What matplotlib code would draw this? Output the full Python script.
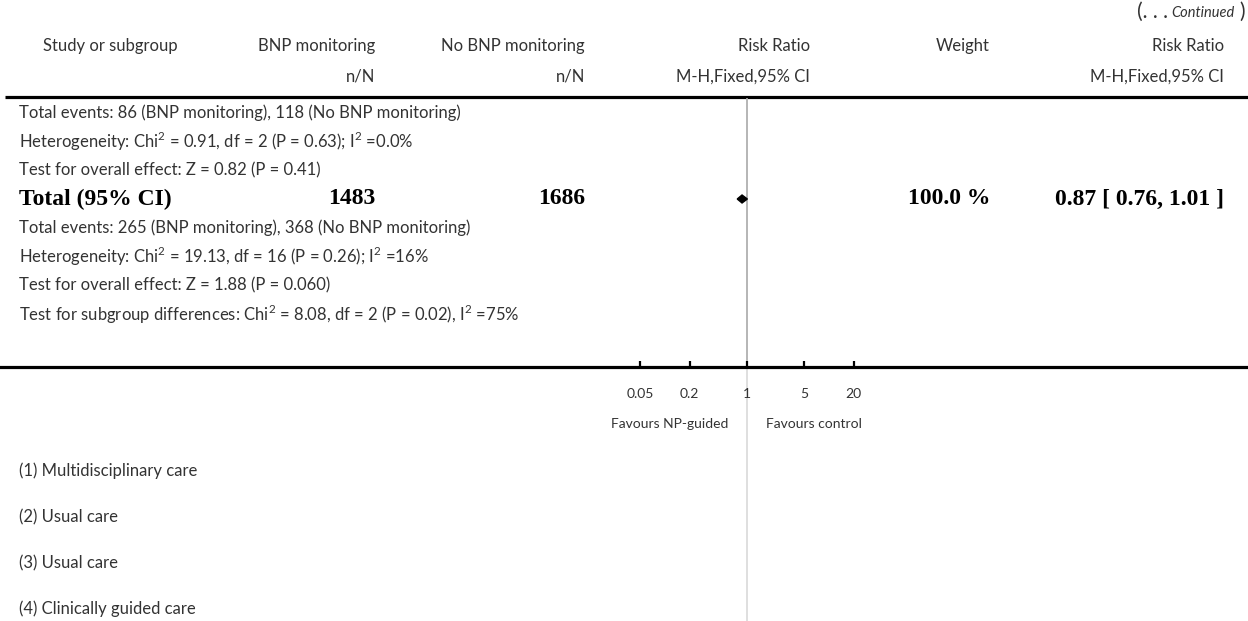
import numpy as np
import matplotlib.pyplot as plt
from matplotlib.patches import Polygon

plt.rcParams['mathtext.fontset'] = 'custom'
plt.rcParams['mathtext.rm'] = 'Lato'
plt.rcParams['font.family'] = ['Lato', 'DejaVu Sans']

SQ = '$^{\\mathregular{2}}$'

# column headers
headers = ['Study or subgroup', 'BNP monitoring', 'No BNP monitoring', 'Risk Ratio', 'Weight', 'Risk Ratio']
subheaders = ['n/N', 'n/N', 'M-H,Fixed,95% CI', 'M-H,Fixed,95% CI']

# summary rows
subgroup_lines = [
    'Total events: 86 (BNP monitoring), 118 (No BNP monitoring)',
    'Heterogeneity: Chi' + SQ + ' = 0.91, df = 2 (P = 0.63); I' + SQ + ' =0.0%',
    'Test for overall effect: Z = 0.82 (P = 0.41)',
]
total_label = 'Total (95% CI)'
total_n = [1483, 1686]
total_weight = 100.0
total_rr = 0.87
total_lo = 0.76
total_hi = 1.01
overall_lines = [
    'Total events: 265 (BNP monitoring), 368 (No BNP monitoring)',
    'Heterogeneity: Chi' + SQ + ' = 19.13, df = 16 (P = 0.26); I' + SQ + ' =16%',
    'Test for overall effect: Z = 1.88 (P = 0.060)',
    'Test for subgroup differences: Chi' + SQ + ' = 8.08, df = 2 (P = 0.02), I' + SQ + ' =75%',
]

# axis
tick_vals = [0.05, 0.2, 1, 5, 20]
tick_labels = ['0.05', '0.2', '1', '5', '20']
favours = ['Favours NP-guided', 'Favours control']

footnotes = ['(1) Multidisciplinary care', '(2) Usual care', '(3) Usual care', '(4) Clinically guided care']

W, H = 1248, 621
fig = plt.figure(figsize=(W / 100, H / 100), dpi=100)
ax = fig.add_axes([0, 0, 1, 1])
ax.set_xlim(0, W)
ax.set_ylim(H, 0)
ax.axis('off')

txt_col = '#333333'
sans = dict(color=txt_col)
fs = 12
serif = dict(family='Liberation Serif', fontweight='bold', color='black', fontsize=17)

# column right edges
c_n1, c_n2, c_rr, c_w, c_ci = 375, 585, 810, 990, 1224

# continued mark
ax.text(1245, 12, ')', ha='right', va='center', fontsize=15, **sans)
ax.text(1235, 13, 'Continued', ha='right', va='center', fontsize=10.5, style='italic', **sans)
ax.text(1168, 12, '(. . .', ha='right', va='center', fontsize=15, **sans)

# header
hx = [(110, 'center'), (c_n1, 'right'), (c_n2, 'right'), (c_rr, 'right'), (c_w, 'right'), (c_ci, 'right')]
for (x, ha), t in zip(hx, headers):
    ax.text(x, 46, t, ha=ha, va='center', fontsize=fs, **sans)
for x, t in zip([c_n1, c_n2, c_rr, c_ci], subheaders):
    ax.text(x, 77, t, ha='right', va='center', fontsize=fs, **sans)
ax.plot([5, W], [97, 97], color='black', lw=2.3, solid_capstyle='butt')

y = 113
for t in subgroup_lines:
    ax.text(19, y, t, ha='left', va='center', fontsize=fs, **sans)
    y += 28.7

ty = 199
ax.text(19, ty, total_label, ha='left', va='center', **serif)
ax.text(c_n1, ty, str(total_n[0]), ha='right', va='center', **serif)
ax.text(c_n2, ty, str(total_n[1]), ha='right', va='center', **serif)
ax.text(c_w, ty, f'{total_weight:.1f} %', ha='right', va='center', **serif)
ax.text(c_ci, ty, f'{total_rr:.2f} [ {total_lo:.2f}, {total_hi:.2f} ]', ha='right', va='center', **serif)

y = 228
for t in overall_lines:
    ax.text(19, y, t, ha='left', va='center', fontsize=fs, **sans)
    y += 28.7

for i, t in enumerate(footnotes):
    ax.text(19, 471 + 46 * i, t, ha='left', va='center', fontsize=fs, **sans)

# forest panel on log scale: x=1 at pixel 747, 82 px per decade
fx = fig.add_axes([0, 0, 1, 1], facecolor='none')
px_dec = 82.0
x1 = 747.0
fx.set_xscale('log')
fx.set_xlim(10 ** (-x1 / px_dec), 10 ** ((W - x1) / px_dec))
fx.set_ylim(H, 0)
for s in ['top', 'left', 'right']:
    fx.spines[s].set_visible(False)
fx.spines['bottom'].set_position(('data', 367))
fx.spines['bottom'].set_linewidth(2.3)
fx.set_yticks([])
fx.set_xticks(tick_vals)
fx.set_xticklabels(tick_labels)
fx.minorticks_off()
fx.tick_params(axis='x', direction='in', length=4.5, width=1.6, pad=15, labelsize=10, labelcolor=txt_col)

# line of no effect
fx.plot([1, 1], [99, 367], color='#b0b0b0', lw=1.3, zorder=1)
fx.plot([1, 1], [367, H], color='#dcdcdc', lw=1.3, zorder=1)

# pooled estimate diamond
dh = 4
fx.add_patch(Polygon([(total_lo, ty), (total_rr, ty - dh), (total_hi, ty), (total_rr, ty + dh)],
                     closed=True, color='black', zorder=3))

fx.text(np.sqrt(0.05 * 0.2) * 1.15, 424, favours[0], ha='center', va='center', fontsize=10, **sans)
fx.text(np.sqrt(5 * 20) * 0.65, 424, favours[1], ha='center', va='center', fontsize=10, **sans)

fig.savefig('out.png', dpi=100)
